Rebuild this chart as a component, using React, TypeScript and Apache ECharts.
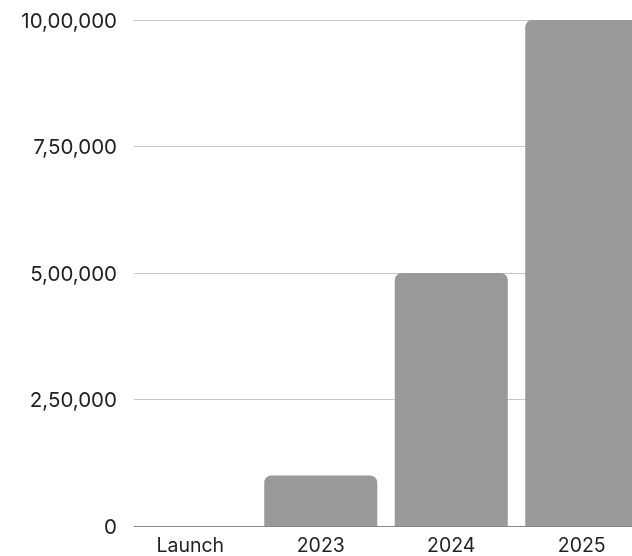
import React, { useEffect, useRef } from "react";
import * as echarts from "echarts";

const categories = ["Launch", "2023", "2024", "2025"];
const values = [0, 100000, 500000, 1000000];
const yTicks = [0, 250000, 500000, 750000, 1000000];

function indian(n: number): string {
  const s = String(Math.round(n));
  if (s.length <= 3) return s;
  const last3 = s.slice(-3);
  let rest = s.slice(0, -3);
  const parts: string[] = [];
  while (rest.length > 2) {
    parts.unshift(rest.slice(-2));
    rest = rest.slice(0, -2);
  }
  if (rest) parts.unshift(rest);
  return parts.join(",") + "," + last3;
}

export default function App() {
  const ref = useRef<HTMLDivElement>(null);
  useEffect(() => {
    const chart = echarts.init(ref.current!, null, { renderer: "svg" });
    const font = "Inter, 'Noto Sans', sans-serif";
    chart.setOption({
      animation: false,
      grid: [
        { left: 125, width: 522, top: 20, height: 506, outerBoundsMode: "none", containLabel: false },
        { left: 134, right: 0, top: 20, height: 506, outerBoundsMode: "none", containLabel: false },
      ],
      xAxis: [
        {
          type: "category",
          gridIndex: 0,
          data: categories,
          axisLine: { show: false },
          axisTick: { show: false },
          axisLabel: {
            color: "#222",
            fontSize: 19.5,
            lineHeight: 20,
            fontFamily: font,
            margin: 9,
          },
        },
        {
          type: "value",
          gridIndex: 1,
          min: 0,
          max: 1,
          axisLine: { show: true, onZero: false, lineStyle: { color: "#888", width: 1 } },
          axisTick: { show: false },
          axisLabel: { show: false },
          splitLine: { show: false },
          z: 10,
        },
      ],
      yAxis: [
        {
          type: "value",
          gridIndex: 0,
          min: 0,
          max: 1000000,
          interval: 250000,
          axisLabel: { show: false },
          axisLine: { show: false },
          axisTick: { show: false },
          splitLine: { show: false },
        },
        {
          type: "value",
          gridIndex: 1,
          min: yTicks[0],
          max: yTicks[yTicks.length - 1],
          interval: 250000,
          axisLine: { show: false },
          axisTick: { show: false },
          axisLabel: {
            color: "#222",
            fontSize: 20.5,
            fontFamily: font,
            margin: 17,
            formatter: (v: number) => indian(v),
          },
          splitLine: { show: true, lineStyle: { color: "#c8c8c8", width: 1 } },
        },
      ],
      series: [
        {
          type: "bar",
          xAxisIndex: 0,
          yAxisIndex: 0,
          data: values,
          barWidth: 113,
          itemStyle: { color: "#999999", borderRadius: [7, 7, 0, 0] },
          z: 3,
        },
      ],
    });
    return () => chart.dispose();
  }, []);
  return (
    <div
      ref={ref}
      style={{ position: "fixed", left: 0, top: 0, width: 632, height: 556 }}
    />
  );
}
